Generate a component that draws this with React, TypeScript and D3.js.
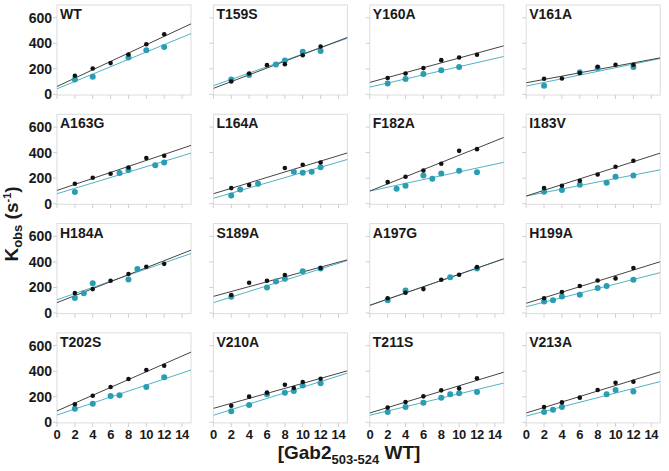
import React from "react";
import * as d3 from "d3";

// panel names (row-major, 4 x 4)
const mutants = [
  "WT", "T159S", "Y160A", "V161A",
  "A163G", "L164A", "F182A", "I183V",
  "H184A", "S189A", "A197G", "H199A",
  "T202S", "V210A", "T211S", "V213A",
];

// black series: [x, y] per panel
const blackPts: number[][][] = [
  [[2, 146], [4, 203], [6, 245], [8, 312], [10, 393], [12, 471]],
  [[2, 101], [4, 164], [6, 229], [8, 237], [10, 307], [12, 375]],
  [[2, 128], [4, 164], [6, 206], [8, 268], [10, 289], [12, 310]],
  [[2, 122], [4, 125], [6, 167], [8, 216], [10, 232], [12, 232]],
  [[2, 156], [4, 203], [6, 234], [8, 284], [10, 357], [12, 375]],
  [[2, 122], [4, 146], [8, 279], [10, 305], [12, 323]],
  [[2, 169], [4, 211], [6, 260], [8, 313], [10, 414], [12, 427]],
  [[2, 122], [4, 141], [6, 180], [8, 229], [10, 289], [12, 336]],
  [[2, 156], [4, 187], [6, 253], [8, 305], [10, 362], [12, 385]],
  [[2, 141], [4, 237], [6, 253], [8, 297], [12, 352]],
  [[2, 115], [4, 159], [6, 187], [8, 260], [10, 299], [12, 359]],
  [[2, 115], [4, 164], [6, 211], [8, 255], [10, 271], [12, 352]],
  [[2, 141], [4, 208], [6, 276], [8, 339], [10, 409], [12, 443]],
  [[2, 130], [4, 201], [6, 232], [8, 294], [9, 268], [10, 315], [12, 341]],
  [[2, 115], [4, 159], [6, 203], [8, 250], [10, 266], [12, 344]],
  [[2, 120], [4, 156], [6, 193], [8, 253], [10, 310], [12, 318]],
];

// teal series: [x, y] per panel
const tealPts: number[][][] = [
  [[2, 117], [4, 138], [8, 289], [10, 346], [12, 372]],
  [[2, 117], [4, 151], [7, 234], [8, 266], [10, 333], [12, 339]],
  [[2, 86], [4, 120], [6, 159], [8, 190], [10, 214]],
  [[2, 68], [6, 174], [8, 206], [12, 214]],
  [[2, 91], [7, 240], [8, 263], [11, 302], [12, 323]],
  [[2, 65], [3, 112], [5, 156], [9, 250], [10, 242], [11, 250], [12, 286]],
  [[3, 117], [4, 141], [6, 221], [7, 195], [8, 237], [10, 258], [12, 247]],
  [[2, 94], [4, 107], [6, 148], [9, 164], [10, 211], [12, 221]],
  [[2, 117], [3, 154], [4, 232], [8, 263], [9, 344]],
  [[2, 128], [6, 200], [7, 247], [8, 268], [10, 326], [12, 349]],
  [[2, 99], [4, 177], [9, 279], [12, 349]],
  [[2, 91], [3, 99], [4, 130], [6, 143], [8, 195], [9, 211], [12, 260]],
  [[2, 107], [4, 146], [6, 206], [7, 211], [10, 276], [12, 352]],
  [[2, 86], [4, 135], [6, 219], [8, 232], [9, 245], [10, 289], [12, 305]],
  [[2, 81], [4, 120], [6, 154], [8, 193], [9, 219], [10, 227], [12, 237]],
  [[2, 81], [3, 99], [4, 120], [9, 219], [10, 253], [12, 242]],
];

// fitted lines: [intercept, slope]
const blackFit = [
  [62, 32.7], [47, 26.6], [94, 19.1], [91, 13],
  [104, 23.5], [78, 21.3], [99, 28], [60, 22.4],
  [81, 27.4], [130, 19.1], [60, 24.3], [76, 21.7],
  [89, 30.7], [109, 19.6], [73, 21.3], [73, 21.5],
];
const tealFit = [
  [44, 28.8], [68, 24.8], [57, 16], [65, 14.4],
  [78, 21.2], [42, 20.3], [99, 15], [60, 13.7],
  [104, 24.1], [81, 22], [60, 24.3], [49, 17.8],
  [57, 23.5], [55, 22], [55, 16.8], [49, 18],
];

const xTicks = [0, 2, 4, 6, 8, 10, 12, 14];
const yTicks = [0, 200, 400, 600];

const W = 669;
const H = 471;
const left0 = 57;
const top0 = 5;
const stepX = 156.4;
const stepY = 109.3;
const pw = 134;
const ph = 90;
const font = "'Liberation Sans', Arial, sans-serif";
const teal = "#2a9db3";
const tealLine = "#4fb3c4";

const x = d3.scaleLinear().domain([0, 15]).range([0, pw]);
const y = d3.scaleLinear().domain([0, 700]).range([89.4, 0]);

function Panel({ i }: { i: number }) {
  const col = i % 4;
  const row = Math.floor(i / 4);
  const tx = left0 + col * stepX;
  const ty = top0 + row * stepY;
  const fitPath = (f: number[]) => {
    const xs = [0, 15];
    const pts = xs.map((v) => f[0] + f[1] * v);
    return d3
      .line<number>()
      .x((_, k) => x(xs[k]))
      .y((d) => y(d))(pts) as string;
  };
  return (
    <g transform={`translate(${tx},${ty})`}>
      <defs>
        <clipPath id={`clip${i}`}>
          <rect x={0} y={0} width={pw} height={ph} />
        </clipPath>
      </defs>
      <rect x={0} y={0} width={pw} height={ph} fill="white" stroke="#dcdcdc" strokeWidth={1} />
      {yTicks.map((t) => (
        <line key={"y" + t} x1={-4} x2={0} y1={y(t)} y2={y(t)} stroke="#cfcfcf" />
      ))}
      {xTicks.map((t) => (
        <line key={"x" + t} x1={x(t)} x2={x(t)} y1={ph} y2={ph + 4} stroke="#cfcfcf" />
      ))}
      {col === 0 &&
        yTicks.map((t) => (
          <text
            key={"yl" + t}
            x={-5}
            y={y(t)}
            dy="0.36em"
            textAnchor="end"
            fontFamily={font}
            fontWeight="bold"
            fontSize={14}
            fill="#1a1a1a"
          >
            {t}
          </text>
        ))}
      {row === 3 &&
        xTicks.map((t) => (
          <text
            key={"xl" + t}
            x={x(t)}
            y={ph + 16}
            textAnchor="middle"
            fontFamily={font}
            fontWeight="bold"
            fontSize={13}
            letterSpacing={-0.4}
            fill="#1a1a1a"
          >
            {t}
          </text>
        ))}
      <g clipPath={`url(#clip${i})`}>
        <path d={fitPath(tealFit[i])} stroke={tealLine} strokeWidth={1} fill="none" />
        <path d={fitPath(blackFit[i])} stroke="#444" strokeWidth={1} fill="none" />
      </g>
      {tealPts[i].map((p, k) => (
        <circle key={"t" + k} cx={x(p[0])} cy={y(p[1])} r={3} fill={teal} />
      ))}
      {blackPts[i].map((p, k) => (
        <circle key={"b" + k} cx={x(p[0])} cy={y(p[1])} r={2.3} fill="#111" />
      ))}
      <text x={3} y={14} fontFamily={font} fontWeight="bold" fontSize={14} fill="#1a1a1a">
        {mutants[i]}
      </text>
    </g>
  );
}

export default function App() {
  return (
    <svg width={W} height={H} style={{ position: "absolute", left: 0, top: 0, background: "white" }}>
      {mutants.map((_, i) => (
        <Panel key={i} i={i} />
      ))}
      <text
        transform="translate(18,224) rotate(-90)"
        textAnchor="middle"
        fontFamily={font}
        fontWeight="bold"
        fontSize={19}
        fill="#1a1a1a"
      >
        K<tspan fontSize={13} dy={4}>obs</tspan>
        <tspan dy={-4}> (s</tspan>
        <tspan fontSize={11} dy={-7}>-1</tspan>
        <tspan dy={7}>)</tspan>
      </text>
      <text x={349} y={459} textAnchor="middle" fontFamily={font} fontWeight="bold" fontSize={19} fill="#1a1a1a">
        [Gab2<tspan fontSize={13} dy={5}>503-524</tspan>
        <tspan dy={-5}> WT]</tspan>
      </text>
    </svg>
  );
}
